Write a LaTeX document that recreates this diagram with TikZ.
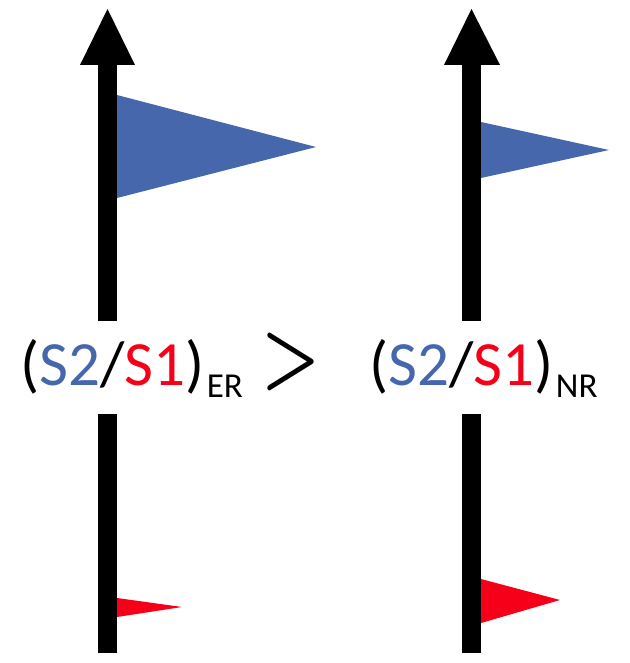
\documentclass[tikz,border=0pt]{standalone}
\usepackage{bm}
\usepackage{graphicx}
\usepackage{fontspec}
\setmainfont{Carlito}
\definecolor{flagblue}{HTML}{4767AD}
\definecolor{flagred}{HTML}{F50018}
\begin{document}
\begin{tikzpicture}[x=1pt,y=-1pt,
  shaft/.style={fill=black},
  head/.style={fill=black},
  ratio/.style={font=\fontsize{63}{72}\selectfont, inner sep=0pt, anchor=base west},
  sub/.style={font=\fontsize{35}{42}\selectfont, inner sep=0pt, anchor=base west}]
\useasboundingbox (0,0) rectangle (629,663);
% left axis
\fill[shaft] (98,65) rectangle (117,321);
\fill[head] (80,65) -- (135,65) -- (107.5,9) -- cycle;
\fill[shaft] (98,414) rectangle (117,653);
% right axis
\fill[shaft] (462,65) rectangle (481,321);
\fill[head] (444,65) -- (500,65) -- (471.5,9) -- cycle;
\fill[shaft] (462,414) rectangle (481,653);
% flags
\fill[flagblue] (117,95) -- (316,147) -- (117,198) -- cycle;
\fill[flagblue] (481,122) -- (609,150) -- (481,178) -- cycle;
\fill[flagred] (117,598) -- (182,607) -- (117,617) -- cycle;
\fill[flagred] (481,579) -- (560,600) -- (481,623) -- cycle;
% labels
\node[ratio] (er) at (20,385) {(\textcolor{flagblue}{S2}/\textcolor{flagred}{S1})};
\node[sub] (ersub) at ([xshift=2pt,yshift=-12pt]er.base east) {ER};
\node[inner sep=0pt] (gt) at (291,361.5) {\scalebox{6.6}[8.6]{$\bm{>}$}};
\node[ratio] (nr) at (369,385) {(\textcolor{flagblue}{S2}/\textcolor{flagred}{S1})};
\node[sub] (nrsub) at ([xshift=2pt,yshift=-12pt]nr.base east) {NR};
\end{tikzpicture}
\end{document}
